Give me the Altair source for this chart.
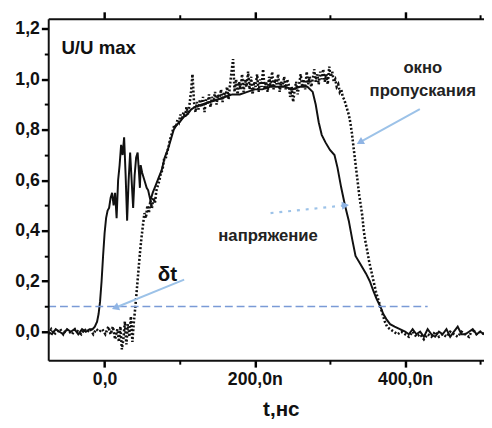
import altair as alt
import pandas as pd

# ---- data: voltage (solid) ----
t_u = [-75, -70, -65, -60, -55, -50, -45, -40, -35, -30, -25, -20, -16, -13, -10, -8, -6, -4, -2, 0,
       2, 4, 6, 8, 10, 12, 14, 16, 18, 20, 22, 24, 26, 28, 30, 32, 34, 36, 38, 40, 42, 44, 46, 47, 48,
       50, 52, 54, 56, 58, 61, 64, 68, 72, 76, 80, 84, 88, 92, 96, 100, 105, 110, 115, 120, 130, 140,
       150, 160, 170, 180, 190, 200, 210, 220, 230, 240, 250, 260, 270, 277, 281, 285, 289, 294, 300,
       306, 310, 315, 320, 325, 330, 334, 340, 348, 353, 358, 362, 367, 371, 375, 380, 386, 393, 400,
       405, 410, 415, 420, 425, 430, 435, 440, 445, 450, 455, 460, 465, 470, 475, 480, 485, 490, 495,
       500, 505]
u = [0.00, -0.01, 0.01, 0.00, -0.01, 0.01, 0.00, 0.01, -0.01, 0.01, 0.00, 0.01, 0.01, 0.02, 0.04,
     0.07, 0.12, 0.20, 0.30, 0.39,
     0.45, 0.48, 0.49, 0.53, 0.55, 0.50, 0.55, 0.45, 0.60, 0.66, 0.74, 0.70, 0.77, 0.62, 0.44, 0.60,
     0.71, 0.60, 0.49, 0.62, 0.69, 0.71, 0.62, 0.57, 0.66,
     0.63, 0.61, 0.59, 0.57, 0.56, 0.52, 0.55, 0.58, 0.61, 0.64, 0.69, 0.72, 0.76, 0.80, 0.82, 0.83,
     0.85, 0.86, 0.88, 0.89, 0.90, 0.91,
     0.92, 0.93, 0.94, 0.94, 0.95, 0.96, 0.96, 0.97, 0.97, 0.97, 0.96, 0.97, 0.97, 0.95, 0.90, 0.83,
     0.78, 0.75, 0.72,
     0.70, 0.65, 0.57, 0.50, 0.44, 0.36, 0.30, 0.27, 0.23, 0.20, 0.16, 0.13, 0.10, 0.07, 0.05, 0.03,
     0.02, 0.01, 0.00,
     -0.01, 0.01, -0.01, 0.00, -0.02, 0.01, -0.01, -0.02, 0.00, -0.01, 0.01, -0.02, 0.00, 0.02,
     -0.01, -0.01, 0.00, 0.01, -0.01,
     0.00, -0.01]

# ---- data: transmission window (dotted) ----
t_w = [-75, -71, -67, -63, -59, -55, -51, -47, -43, -39, -35, -31, -27, -23, -19, -15, -11, -7, -3, 1,
       5, 8, 11, 14, 17, 19, 21, 23, 25, 27, 29, 31, 33, 35, 37, 39, 41, 43, 45, 47, 49, 51, 53, 55,
       57, 59, 61, 63, 65, 67, 69, 71, 73, 75, 77, 79, 81, 83, 85, 87, 89, 91, 93, 95, 97, 99, 101,
       103, 105, 107, 109, 111, 113, 115, 117, 119, 121, 123, 125, 127, 129, 131, 133, 135, 137, 139,
       141, 143, 145, 147, 149, 151, 153, 155, 157, 159, 161, 163, 165, 167, 169, 171, 173, 175, 177,
       179, 181, 183, 185, 187, 189, 191, 193, 195, 197, 199, 201, 203, 205, 207, 209, 211, 213, 215,
       217, 219, 221, 223, 225, 227, 229, 231, 233, 235, 237, 239, 241, 243, 245, 247, 249, 251, 253,
       255, 257, 259, 261, 263, 265, 267, 269, 271, 273, 275, 277, 279, 281, 283, 285, 287, 289, 291,
       293, 295, 297, 299, 301, 303, 305, 307, 309, 311, 313, 315, 317, 319, 321, 323, 325, 327, 329,
       331, 333, 335, 337, 339, 341, 343, 345, 347, 349, 352, 355, 358, 361, 364, 367, 370, 373, 376,
       380, 385, 390, 395, 400, 405, 410, 415, 420, 425, 430, 435, 440, 445, 450, 455, 460, 465, 470,
       475, 480, 485, 490, 495, 500, 505]
w = [-0.01, 0.01, -0.01, 0.00, 0.01, -0.01, 0.01, 0.00, -0.01, 0.01, 0.00, -0.01, 0.01, 0.00, 0.01,
     -0.01, 0.01, 0.00, 0.01, -0.01,
     0.02, -0.01, 0.02, -0.03, 0.01, -0.04, 0.02, -0.07, -0.03, 0.04, -0.05, 0.03, -0.02, 0.06, -0.04,
     0.04, 0.10, 0.17, 0.24, 0.31, 0.37, 0.42, 0.47, 0.45,
     0.50, 0.47, 0.52, 0.49, 0.53, 0.51, 0.56, 0.58, 0.60, 0.63, 0.64, 0.68, 0.68, 0.71, 0.73, 0.76,
     0.78, 0.80, 0.82, 0.81, 0.84, 0.83, 0.86,
     0.84, 0.87, 0.85, 0.89, 0.86, 0.90, 0.95, 1.02, 0.91, 0.87, 0.91, 0.88, 0.92, 0.89, 0.93, 0.87,
     0.92, 0.90, 0.94,
     0.89, 0.93, 0.91, 0.95, 0.90, 0.94, 0.92, 0.96, 0.91, 0.95, 0.93, 0.97, 0.92, 0.98, 1.03, 1.08,
     0.95, 1.00, 0.94,
     0.99, 0.96, 1.02, 0.95, 1.00, 0.97, 1.03, 0.96, 1.01, 0.94, 0.99, 0.97, 1.02, 0.95, 1.00, 0.97,
     1.04, 0.96, 0.99,
     0.95, 1.01, 0.97, 1.03, 0.96, 1.00, 0.98, 1.02, 0.95, 0.99, 0.97, 1.01, 0.96, 1.00, 0.98, 0.93,
     0.97, 0.91, 0.96,
     0.99, 0.94, 0.98, 1.02, 0.97, 1.00, 0.96, 1.03, 0.98, 1.01, 0.97, 1.00, 1.04, 0.99, 1.02, 0.98,
     1.03, 1.00, 1.04,
     0.99, 1.02, 0.98, 1.05, 1.01, 1.03, 0.99, 1.00, 0.97, 0.98, 0.95, 0.96, 0.93, 0.92, 0.90, 0.88,
     0.86, 0.83, 0.79,
     0.74, 0.69, 0.64, 0.59, 0.54, 0.50, 0.46, 0.40, 0.36, 0.33, 0.28, 0.24, 0.20, 0.16, 0.13, 0.10,
     0.07, 0.04, 0.02,
     0.01, 0.00, -0.01, 0.00, -0.01, -0.02, 0.00, -0.02, -0.01, -0.03, -0.01, -0.02, 0.00, -0.02,
     -0.01, -0.02, 0.00, -0.01, -0.02,
     0.00, -0.01, -0.02, 0.01, -0.01, 0.00, -0.01]

# ---- axes ----
x_major = [0, 200, 400]
x_minor = [100, 300, 500]
y_major = [0.0, 0.2, 0.4, 0.6, 0.8, 1.0, 1.2]
y_minor = [0.1, 0.3, 0.5, 0.7, 0.9, 1.1]
x_domain = [-75, 505]
y_domain = [-0.113, 1.24]

# ---- threshold line ----
thr_t = [-75, 430]
thr_y = [0.1, 0.1]

# ---- annotations ----
txt_t = [423.5, 423.5, 217.6]
txt_y = [1.045, 0.955, 0.377]
txt_s = ["окно", "пропускания", "напряжение"]

arr_t1 = [105.9, 419.6]
arr_y1 = [0.206, 0.882]
arr_t2 = [15.7, 341.2]
arr_y2 = [0.097, 0.753]
dot_arr_t1 = [220.9]
dot_arr_y1 = [0.47]
dot_arr_t2 = [319.0]
dot_arr_y2 = [0.50]
head_t = [15.7, 341.2, 319.0]
head_y = [0.097, 0.753, 0.50]
head_a = [248, 241, 84]

FONT = "Liberation Sans"
INK = "#111111"
BLUE = "#7a9ad6"
LBLUE = "#9cc2e8"

xs = alt.Scale(domain=x_domain, nice=False, zero=False)
ys = alt.Scale(domain=y_domain, nice=False, zero=False)

x_label_expr = "datum.value === 0 ? '0,0' : replace(format(datum.value, '.1f'), '.', ',') + 'n'"
y_label_expr = "replace(format(datum.value, '.1f'), '.', ',')"

x_axis = alt.Axis(
    orient="bottom", values=x_major, labelExpr=x_label_expr, grid=False, zindex=2,
    ticks=True, tickSize=7, tickWidth=2.5, tickColor="black", tickOpacity=1,
    domainColor=INK, domainWidth=2,
    labelFont=FONT, labelFontSize=18, labelFontWeight="bold", labelColor=INK, labelPadding=4,
    title="t,нс", titleFont=FONT, titleFontSize=21, titleFontWeight="bold", titleColor=INK,
    titleX=237, titleY=50, titleBaseline="middle",
)
x_axis_minor = alt.Axis(
    orient="bottom", values=x_minor, labels=False, grid=False, title=None, domain=False, zindex=2,
    ticks=True, tickSize=4, tickWidth=2, tickColor="black", tickOpacity=1,
)
x_axis_top = alt.Axis(
    orient="top", values=x_major, labels=False, grid=False, title=None, zindex=2,
    ticks=True, tickSize=7, tickWidth=2.5, tickColor="black", tickOpacity=1,
    domainColor=INK, domainWidth=2,
)
x_axis_top_minor = alt.Axis(
    orient="top", values=x_minor, labels=False, grid=False, title=None, domain=False, zindex=2,
    ticks=True, tickSize=4, tickWidth=2, tickColor="black", tickOpacity=1,
)
y_axis = alt.Axis(
    orient="left", values=y_major, labelExpr=y_label_expr, grid=False, title=None, zindex=2,
    ticks=True, tickSize=7, tickWidth=2.5, tickColor="black", tickOpacity=1,
    domainColor=INK, domainWidth=2,
    labelFont=FONT, labelFontSize=18, labelFontWeight="bold", labelColor=INK, labelPadding=2,
)
y_axis_minor = alt.Axis(
    orient="left", values=y_minor, labels=False, grid=False, title=None, domain=False, zindex=2,
    ticks=True, tickSize=4, tickWidth=2, tickColor="black", tickOpacity=1,
)

df_u = pd.DataFrame({"t": t_u, "v": u})
df_w = pd.DataFrame({"t": t_w, "v": w})


def X(field, axis=None):
    return alt.X(field, scale=xs, axis=axis)


def Y(field, axis=None):
    return alt.Y(field, scale=ys, axis=axis)


volt = alt.Chart(df_u).mark_line(color=INK, strokeWidth=2, clip=True).encode(
    x=X("t:Q", x_axis), y=Y("v:Q", y_axis),
)
window = alt.Chart(df_w).mark_line(color=INK, strokeWidth=2.6, strokeDash=[2, 2], clip=True).encode(
    x=X("t:Q", x_axis_top), y=Y("v:Q", y_axis_minor),
)

thr = alt.Chart(pd.DataFrame({"t": thr_t, "v": thr_y})).mark_line(
    color=BLUE, strokeWidth=1.6, strokeDash=[8, 4]
).encode(x=X("t:Q", x_axis_minor), y=Y("v:Q"))

arrows = alt.Chart(pd.DataFrame({"t1": arr_t1, "y1": arr_y1, "t2": arr_t2, "y2": arr_y2})).mark_rule(
    color=LBLUE, strokeWidth=2
).encode(x=X("t1:Q", x_axis_top_minor), y=Y("y1:Q"), x2="t2:Q", y2="y2:Q")

dot_arrow = alt.Chart(pd.DataFrame({"t1": dot_arr_t1, "y1": dot_arr_y1, "t2": dot_arr_t2, "y2": dot_arr_y2})).mark_rule(
    color=LBLUE, strokeWidth=2.2, strokeDash=[3, 6]
).encode(x=X("t1:Q"), y=Y("y1:Q"), x2="t2:Q", y2="y2:Q")

heads = alt.Chart(pd.DataFrame({"t": head_t, "v": head_y, "a": head_a})).mark_point(
    shape="triangle", filled=True, color="#8fb4e4", size=70, opacity=1
).encode(
    x=X("t:Q"), y=Y("v:Q"),
    angle=alt.Angle("a:Q", scale=None),
)

labels = alt.Chart(pd.DataFrame({"t": txt_t, "v": txt_y, "s": txt_s})).mark_text(
    font=FONT, fontSize=17, fontWeight="bold", color="#222222", align="center", baseline="middle"
).encode(x=X("t:Q"), y=Y("v:Q"), text="s:N")

umax = alt.Chart(pd.DataFrame({"t": [-57.5], "v": [1.122], "s": ["U/U max"]})).mark_text(
    font=FONT, fontSize=19, fontWeight="bold", color=INK, align="left", baseline="middle"
).encode(x=X("t:Q"), y=Y("v:Q"), text="s:N")

dt = alt.Chart(pd.DataFrame({"t": [83.7], "v": [0.225], "s": ["δt"]})).mark_text(
    font=FONT, fontSize=21, fontWeight="bold", color=INK, align="center", baseline="middle"
).encode(x=X("t:Q"), y=Y("v:Q"), text="s:N")

chart = alt.layer(
    volt, window, thr, arrows, dot_arrow, heads, labels, umax, dt
).resolve_axis(x="independent", y="independent").properties(
    width=444, height=348,
    padding={"left": 41, "top": 7, "right": 0, "bottom": 57},
    autosize=alt.AutoSizeParams(type="none"),
).configure_view(stroke=None)

chart.save("out.html", embed_options={"renderer": "svg", "actions": False})
